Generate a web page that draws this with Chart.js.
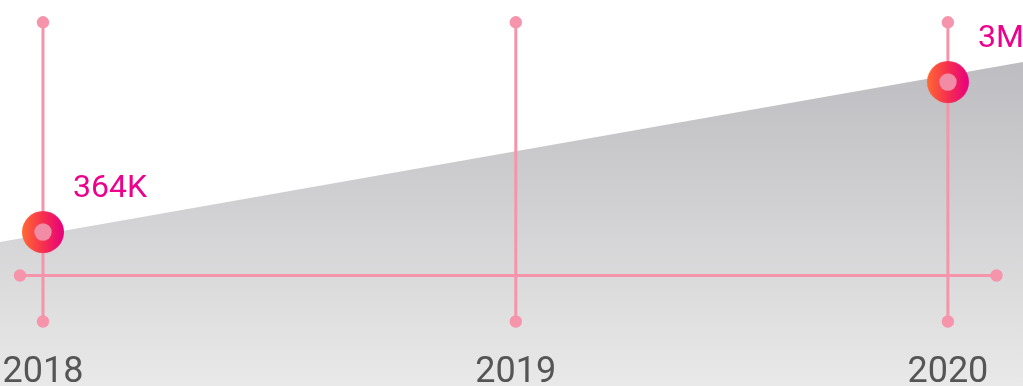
<!DOCTYPE html>
<html><head><meta charset="utf-8">
<style>html,body{margin:0;padding:0;background:#fff;overflow:hidden}</style>
<script src="https://cdn.jsdelivr.net/npm/chart.js@4.4.0/dist/chart.umd.min.js"></script>
</head><body>
<canvas id="c" width="1023" height="386"></canvas>
<script>
// ---- data ----
const tickValues = [2018, 2019.045, 2020];
const tickLabels = ['2018', '2019', '2020'];
const pointYears = [2018, 2020];
const pointValues = [364000, 3000000];
const areaYears = [2017.905, 2020.166];
const areaValues = [188000, 3351000];

const fmt = v => v >= 1e6 ? (v / 1e6) + 'M' : (v / 1e3) + 'K';

const LINE = '#f594aa';

// gradient ring point image
function ringImage() {
  const r = 21, c = document.createElement('canvas');
  c.width = c.height = r * 2 + 2;
  const g = c.getContext('2d');
  const gr = g.createLinearGradient(1, 0, 2 * r + 1, 0);
  gr.addColorStop(0, '#ff6a34');
  gr.addColorStop(0.5, '#f6304f');
  gr.addColorStop(1, '#e8007f');
  g.fillStyle = gr;
  g.beginPath(); g.arc(r + 1, r + 1, r, 0, Math.PI * 2); g.fill();
  g.fillStyle = '#f28ca6';
  g.beginPath(); g.arc(r + 1, r + 1, 8.7, 0, Math.PI * 2); g.fill();
  return c;
}

const decor = {
  id: 'decor',
  afterLayout(chart) {
    // let the year labels sit inside the bottom of the plot
    const xs = chart.scales.x;
    xs.bottom = chart.height;
    xs.top = chart.height - 35;
  },
  afterDatasetDraw(chart, args) {
    if (args.index !== 0) return;
    const ctx = chart.ctx, xs = chart.scales.x, a = chart.chartArea;
    ctx.save();
    ctx.strokeStyle = LINE; ctx.fillStyle = LINE; ctx.lineWidth = 3;
    const dot = (x, y) => { ctx.beginPath(); ctx.arc(x, y, 6.2, 0, Math.PI * 2); ctx.fill(); };
    const top = a.top + 22.3, bot = a.top + 321.5, hy = a.top + 275.5;
    // horizontal axis line
    ctx.beginPath(); ctx.moveTo(a.left + 20, hy); ctx.lineTo(a.right - 26.5, hy); ctx.stroke();
    dot(a.left + 20, hy); dot(a.right - 26.5, hy);
    tickValues.forEach(v => {
      const x = xs.getPixelForValue(v);
      ctx.beginPath(); ctx.moveTo(x, top); ctx.lineTo(x, bot); ctx.stroke();
      dot(x, top); dot(x, bot);
    });
    ctx.restore();
  },
  afterDatasetsDraw(chart) {
    const ctx = chart.ctx, meta = chart.getDatasetMeta(1);
    ctx.save();
    ctx.font = '32px Roboto';
    ctx.fillStyle = '#ec008c';
    ctx.textAlign = 'left';
    ctx.textBaseline = 'alphabetic';
    meta.data.forEach((el, i) => ctx.fillText(fmt(pointValues[i]), el.x + 30, el.y - 35));
    ctx.restore();
  }
};

new Chart(document.getElementById('c'), {
  type: 'line',
  data: {
    datasets: [
      {
        data: areaYears.map((x, i) => ({ x, y: areaValues[i] })),
        order: 2,
        borderWidth: 0,
        pointRadius: 0,
        fill: 'start',
        backgroundColor: (ctx) => {
          const a = ctx.chart.chartArea;
          if (!a) return '#d0d0d3';
          const g = ctx.chart.ctx.createLinearGradient(0, a.top + 60, 0, a.bottom);
          g.addColorStop(0, '#bdbdc1');
          g.addColorStop(1, '#e9e9e9');
          return g;
        }
      },
      {
        data: pointYears.map((x, i) => ({ x, y: pointValues[i] })),
        order: 1,
        showLine: false,
        pointStyle: ringImage(),
        pointRadius: 21,
        clip: false
      }
    ]
  },
  options: {
    responsive: false,
    animation: false,
    layout: { padding: 0, autoPadding: false },
    plugins: { legend: { display: false }, tooltip: { enabled: false } },
    scales: {
      x: {
        type: 'linear',
        min: 2017.905,
        max: 2020.166,
        position: 'bottom',
        afterFit: s => { s.height = 0; },
        afterBuildTicks: s => { s.ticks = tickValues.map(v => ({ value: v })); },
        grid: { display: false, drawTicks: false },
        border: { display: false },
        ticks: {
          z: 1,
          autoSkip: false,
          maxRotation: 0,
          padding: 0,
          color: '#555555',
          font: { family: 'Roboto', size: 36 },
          callback: (v) => tickLabels[tickValues.indexOf(v)]
        }
      },
      y: {
        display: false,
        min: -2342000,
        max: 4441000
      }
    }
  },
  plugins: [decor]
});
</script>
</body></html>
